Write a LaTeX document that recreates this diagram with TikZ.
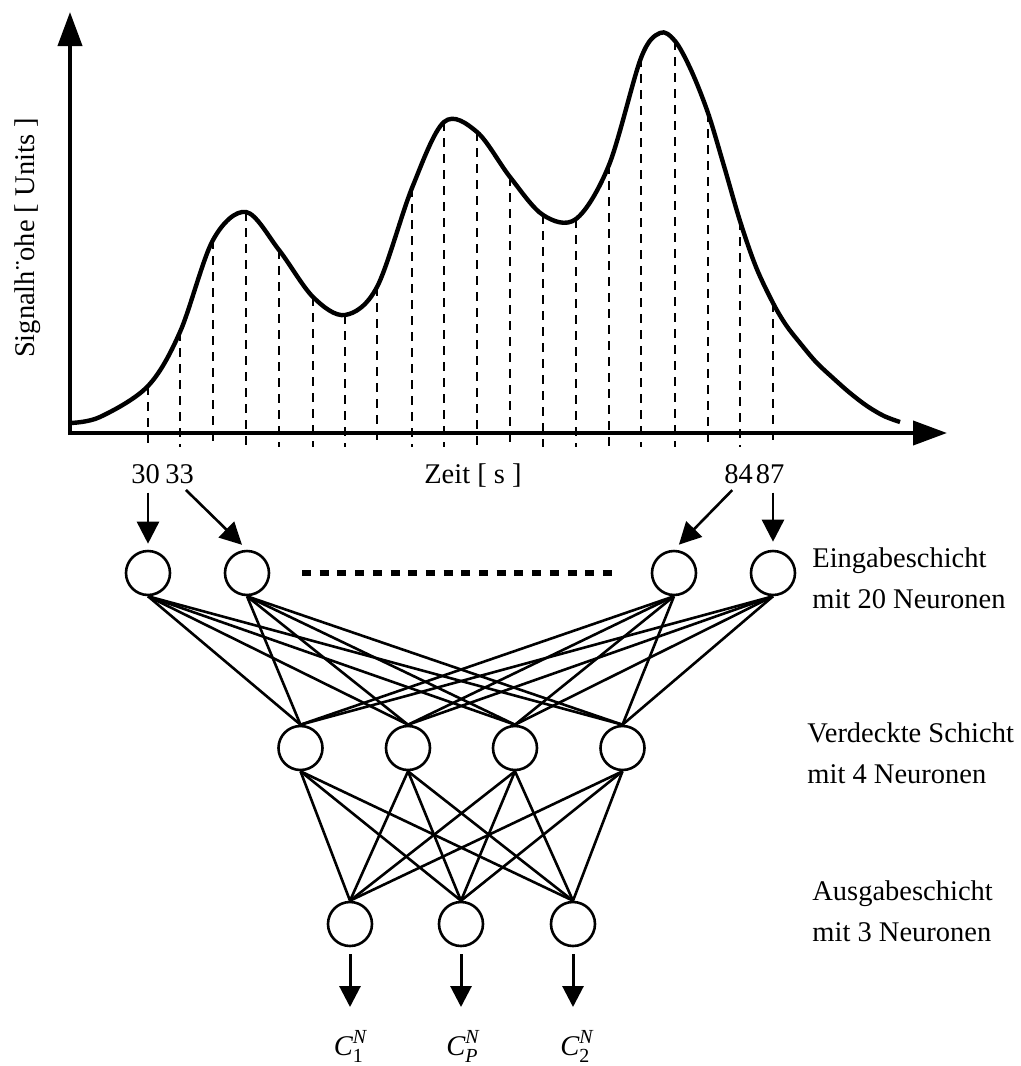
\documentclass[tikz,border=0pt]{standalone}
\usepackage{amsmath}
\usepackage{fontspec}
\setmainfont{Liberation Serif}
\usetikzlibrary{arrows.meta}
\begin{document}
\begin{tikzpicture}[x=0.5pt,y=-0.5pt,
  font=\fontsize{14.25}{17}\selectfont,
  axis/.style={line width=2pt,-{Triangle[length=17pt,width=12pt]}},
  curve/.style={line width=2.2pt,line join=round},
  sample/.style={line width=1.1pt,dash pattern=on 4.5pt off 3.5pt},
  neuron/.style={circle,draw,line width=1.3pt,minimum size=22pt,inner sep=0pt},
  link/.style={line width=1.3pt},
  inarrow/.style={line width=1.3pt,-{Triangle[length=11pt,width=11pt]}},
  outarrow/.style={line width=1.5pt,-{Triangle[length=10.5pt,width=10.5pt]}},
  lbl/.style={inner sep=0pt,anchor=base},
  side/.style={inner sep=0pt,anchor=base west},
  dots/.style={line width=3pt,dash pattern=on 4.5pt off 4.35pt}]
\useasboundingbox (0,0) rectangle (1021,1066);

% axes
\coordinate (ybot) at (70,435);
\coordinate (ytip) at (70,12);
\coordinate (xbot) at (68,433);
\coordinate (xtip) at (947,433);
\draw[axis] (ybot) -- (ytip);
\draw[axis] (xbot) -- (xtip);

% sample lines
\foreach \x/\y in {148/386,180/332,213/240,246/212,279/250,313/297,345/315,377/287,
  412/188,444/122,477/132,510/177,543/215,576/219,609/165,641/58,675/41,708/113,740/221,773/303}
  \draw[sample] (\x,\y) -- (\x,447);

% signal curve
\draw[curve] plot[smooth,tension=0.55] coordinates {(70,423) (100,417) (148,386) (180,332)
  (213,240) (246,212) (279,250) (313,297) (345,315) (377,287) (412,188) (444,122) (477,132)
  (510,177) (543,215) (576,219) (609,165) (641,58) (660,33) (675,41)
  (691,70) (708,113) (724,166) (740,221) (756,267) (773,303) (786,325) (800,343) (816,362)
  (833,378) (850,393) (867,406) (884,416) (900,422)};

% axis labels
\node[inner sep=0pt,rotate=90] (ylab) at (28,238) {Signalh¨ohe [ Units ]};
\node[lbl] (xlab) at (473,483) {Zeit [ s ]};
\node[lbl] (n30) at (145.5,483) {30};
\node[lbl] (n33) at (179.5,483) {33};
\node[lbl] (n84) at (738.5,483) {84};
\node[lbl] (n87) at (770,483) {87};

% input layer
\node[neuron] (in1) at (148,573) {};
\node[neuron] (in2) at (247,573) {};
\node[neuron] (in3) at (674,573) {};
\node[neuron] (in4) at (773,573) {};
\coordinate (d1) at (302,573);
\coordinate (d2) at (612,573);
\draw[dots] (d1) -- (d2);

% hidden layer
\node[neuron] (h1) at (300.5,748) {};
\node[neuron] (h2) at (408,748) {};
\node[neuron] (h3) at (515,748) {};
\node[neuron] (h4) at (622.5,748) {};

% output layer
\node[neuron] (o1) at (350,924) {};
\node[neuron] (o2) at (461,924) {};
\node[neuron] (o3) at (573,924) {};

% input arrows
\draw[inarrow,shorten <=4.5pt,shorten >=3pt] (in1 |- n30.south) -- (in1.north);
\draw[inarrow,shorten <=4.5pt,shorten >=3.5pt] (n33.south) -- (in2.north);
\draw[inarrow,shorten <=4.5pt,shorten >=3.5pt] (n84.south) -- (in3.north);
\draw[inarrow,shorten <=4.5pt,shorten >=4pt] (in4 |- n87.south) -- (in4.north);

% connections
\foreach \a in {in1,in2,in3,in4}
  \foreach \b in {h1,h2,h3,h4}
    \draw[link] (\a.south) -- (\b.north);
\foreach \a in {h1,h2,h3,h4}
  \foreach \b in {o1,o2,o3}
    \draw[link] (\a.south) -- (\b.north);

% outputs
\coordinate (t1) at (350,1007);
\coordinate (t2) at (461,1007);
\coordinate (t3) at (573,1007);
\draw[outarrow,shorten <=3.5pt] (o1.south) -- (t1);
\draw[outarrow,shorten <=3.5pt] (o2.south) -- (t2);
\draw[outarrow,shorten <=3.5pt] (o3.south) -- (t3);
\node[lbl] (c1) at (350.5,1055) {$\textit{C}^{\textit{N}}_{\text{1}}$};
\node[lbl] (cp) at (463,1055) {$\textit{C}^{\textit{N}}_{\textit{P}}$};
\node[lbl] (c2) at (577,1055) {$\textit{C}^{\textit{N}}_{\text{2}}$};

% layer descriptions
\node[side] (e1) at (812,567) {Eingabeschicht};
\node[side] (e2) at (812,608) {mit 20 Neuronen};
\node[side] (v1) at (807,742) {Verdeckte Schicht};
\node[side] (v2) at (807,783) {mit 4 Neuronen};
\node[side] (a1) at (812,900) {Ausgabeschicht};
\node[side] (a2) at (812,941) {mit 3 Neuronen};
\end{tikzpicture}
\end{document}
